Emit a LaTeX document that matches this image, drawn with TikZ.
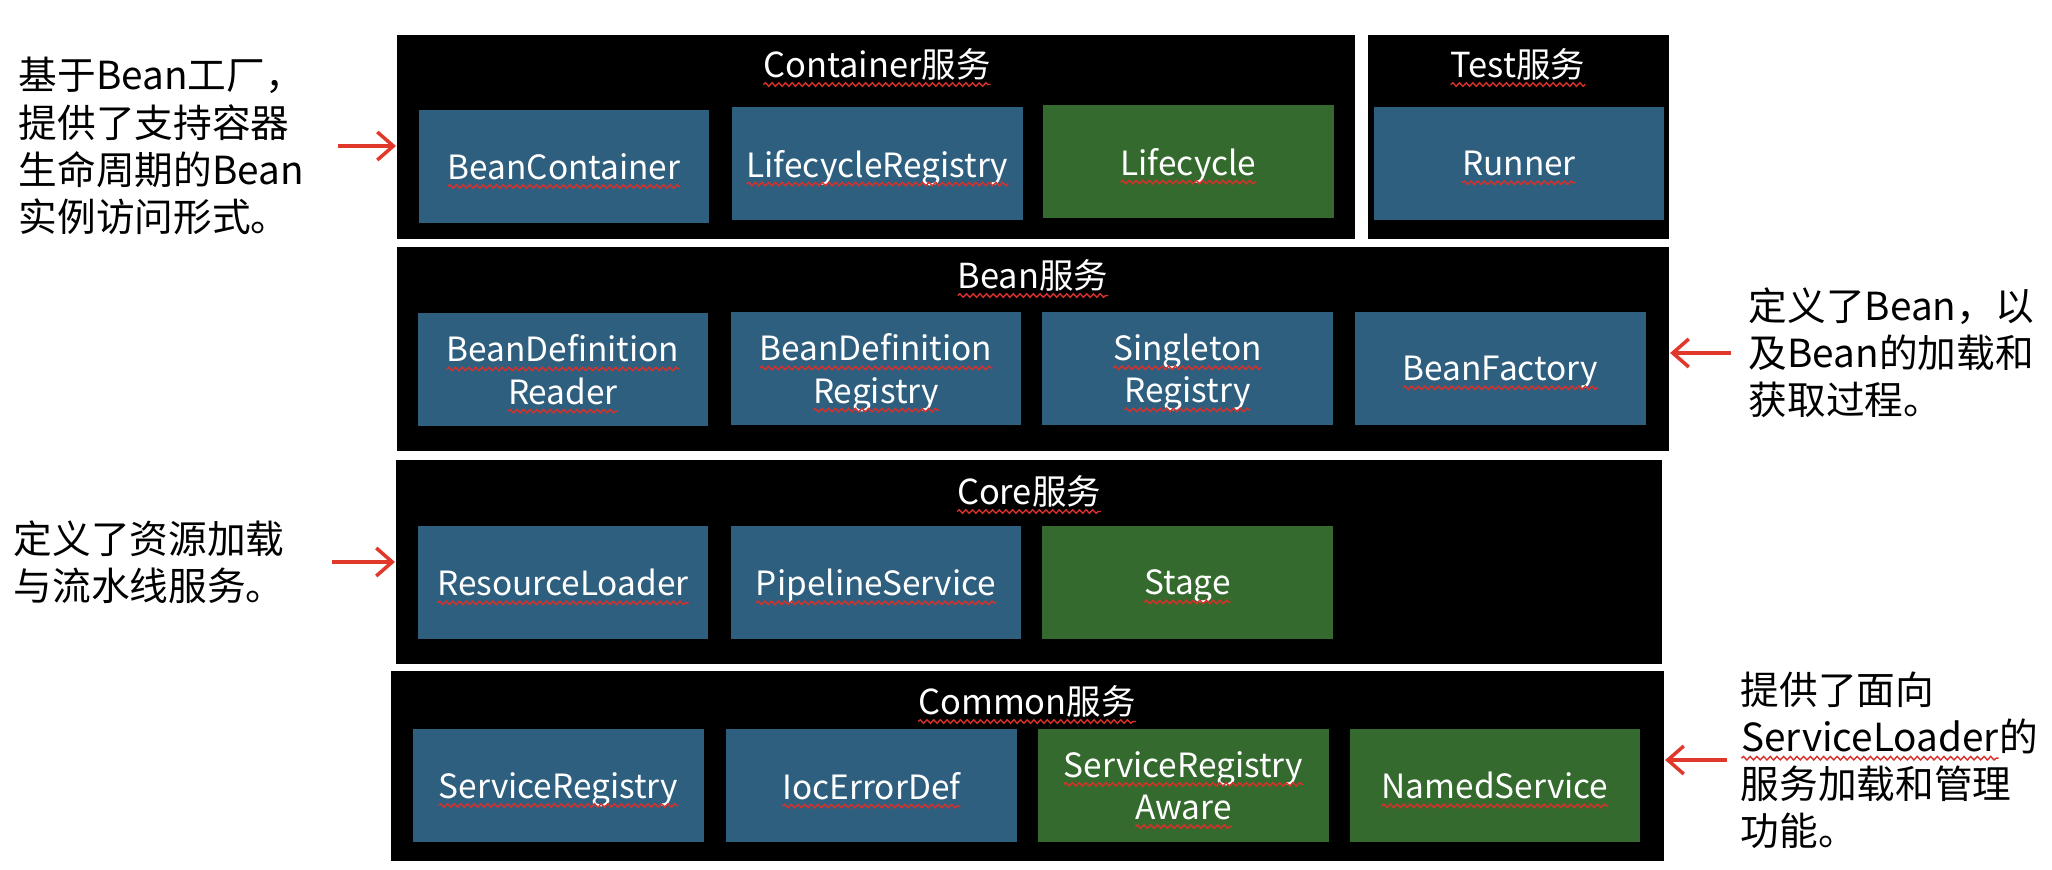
\documentclass[tikz,border=0pt]{standalone}
\usepackage{fontspec}
\setmainfont{Noto Sans CJK SC}
\usetikzlibrary{arrows.meta,decorations.pathmorphing}

\definecolor{boxblue}{HTML}{2F5F7F}
\definecolor{boxgreen}{HTML}{356A2E}
\definecolor{pfeilrot}{HTML}{E0392B}
\definecolor{spellred}{HTML}{D8302A}

\newcommand{\boxfont}{\fontsize{9.5}{12}\selectfont}
\newcommand{\titlefont}{\fontsize{9.8}{12}\selectfont}
\newcommand{\notefont}{\fontsize{11}{13.4}\selectfont}
% rote Wellenlinie unter dem Wort
\newcommand{\spell}[1]{\tikz[baseline=(w.base)]{\node[rectangle, inner sep=0pt, outer sep=0pt, minimum width=0pt, minimum height=0pt, fill=none, draw=none, anchor=center, text depth=] (w) {#1};
  \draw[spellred, line width=0.4pt, decorate, decoration={snake, amplitude=0.5pt, segment length=1.9pt}] ([yshift=-2pt]w.base west) -- ([yshift=-2pt]w.base east);}}

\begin{document}
\begin{tikzpicture}[
    x=0.01cm, y=-0.01cm,
    panel/.style={rectangle, fill=black, inner sep=0pt},
    block/.style={rectangle, fill=boxblue, text=white, minimum width=2.9cm, minimum height=1.13cm, align=center, inner sep=0pt, text depth=0pt, font=\boxfont},
    greenblock/.style={block, fill=boxgreen},
    title/.style={text=white, text depth=0pt, font=\titlefont},
    note/.style={anchor=west, align=left, inner sep=0pt, font=\notefont},
    pfeil/.style={->, draw=pfeilrot, line width=1pt},
    >={Straight Barb[length=1.6mm, width=2.8mm]}
]
\useasboundingbox (0,0) rectangle (2052,870);

% Schichten
\node[panel, minimum width=9.58cm, minimum height=2.04cm] at (876,137) (container) {};
\node[panel, minimum width=3.01cm, minimum height=2.04cm] at (1518.5,137) (test) {};
\node[panel, minimum width=12.72cm, minimum height=2.04cm] at (1033,349) (bean) {};
\node[panel, minimum width=12.66cm, minimum height=2.04cm] at (1029,562) (core) {};
\node[panel, minimum width=12.73cm, minimum height=1.90cm] at (1027.5,766) (common) {};

% Titel
\node[title] at (877,63) (containertitle) {\spell{Container服务}};
\node[title] at (1518,63) (testtitle) {\spell{Test服务}};
\node[title] at (1033,274) (beantitle) {\spell{Bean服务}};
\node[title] at (1029,490) (coretitle) {\spell{Core服务}};
\node[title] at (1027,700) (commontitle) {\spell{Common服务}};

% Container und Test
\node[block] at (564,166.5) (beancontainer) {\spell{BeanContainer}};
\node[block] at (877.5,163.5) (lifecycleregistry) {\spell{LifecycleRegistry}};
\node[greenblock] at (1188.5,161.5) (lifecycle) {\spell{Lifecycle}};
\node[block] at (1519,163.5) (runner) {\spell{Runner}};

% Bean
\node[block] at (563,369.5) (beandefreader) {\spell{BeanDefinition}\\\spell{Reader}};
\node[block] at (876,368.5) (beandefregistry) {\spell{BeanDefinition}\\\spell{Registry}};
\node[block] at (1187.5,368.5) (singletonregistry) {\spell{Singleton}\\\spell{Registry}};
\node[block] at (1500.5,368.5) (beanfactory) {\spell{BeanFactory}};

% Core
\node[block] at (563,582.5) (resourceloader) {\spell{ResourceLoader}};
\node[block] at (876,582.5) (pipelineservice) {\spell{PipelineService}};
\node[greenblock] at (1187.5,582.5) (stage) {\spell{Stage}};

% Common
\node[block] at (558.5,785.5) (serviceregistry) {\spell{ServiceRegistry}};
\node[block] at (871.5,785.5) (iocerrordef) {\spell{IocErrorDef}};
\node[greenblock] at (1183.5,785.5) (serviceregistryaware) {\spell{ServiceRegistry}\\\spell{Aware}};
\node[greenblock] at (1495,785.5) (namedservice) {\spell{NamedService}};

% Beschreibungen
\node[note] at (18,146) (note1) {基于Bean工厂，\\提供了支持容器\\生命周期的Bean\\实例访问形式。};
\node[note] at (13,562) (note2) {定义了资源加载\\与流水线服务。};
\node[note] at (1748,353) (note3) {定义了Bean，以\\及Bean的加载和\\获取过程。};
\node[note] at (1740,760) (note4) {提供了面向\\\spell{ServiceLoader}的\\服务加载和管理\\功能。};

% Pfeile
\draw[pfeil] ([xshift=0.34cm]note1.east) -- (note1.east -| container.west);
\draw[pfeil] ([xshift=0.47cm]note2.east) -- (note2.east -| core.west);
\draw[pfeil] ([xshift=-0.17cm]note3.west) -- (note3.west -| bean.east);
\draw[pfeil] ([xshift=-0.13cm]note4.west) -- (note4.west -| common.east);
\end{tikzpicture}
\end{document}
